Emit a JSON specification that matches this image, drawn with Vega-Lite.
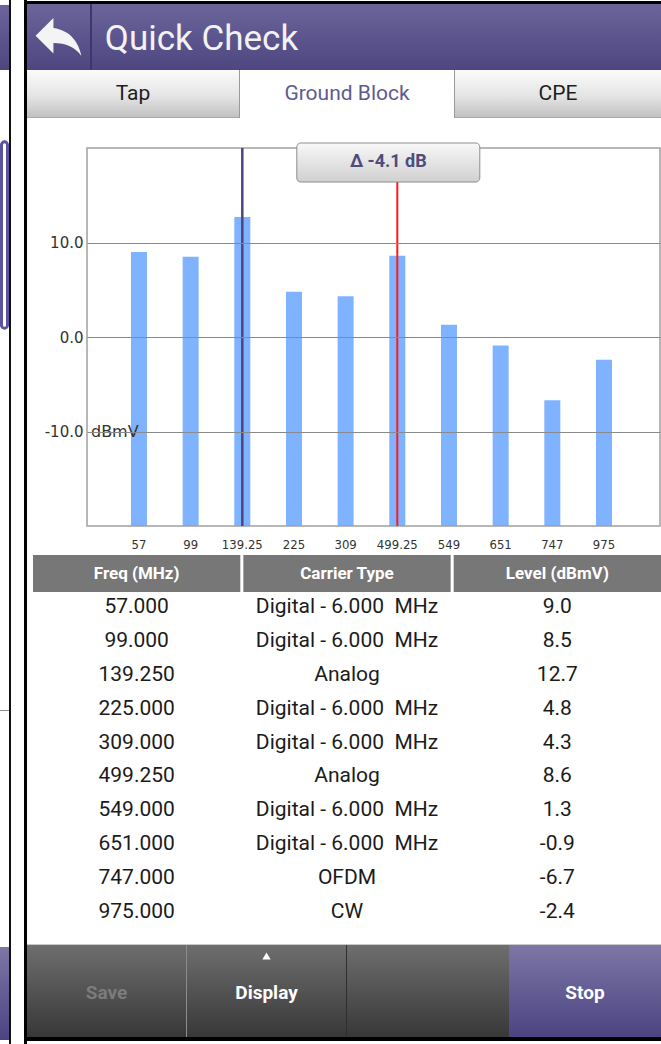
{
"$schema": "https://vega.github.io/schema/vega-lite/v6.json",
"background": "white",
"padding": 0,
"spacing": 0,
"config": {"view": {"stroke": null}, "font": "Roboto", "concat": {"spacing": 0},
  "locale": {"number": {"decimal": ".", "thousands": ",", "grouping": [3], "currency": ["$", ""], "minus": "-"}}},
"datasets": {
  "channels": [
    {"freq": 57, "label": "57", "type": "Digital - 6.000\u00a0 MHz", "level": 9.0},
    {"freq": 99, "label": "99", "type": "Digital - 6.000\u00a0 MHz", "level": 8.5},
    {"freq": 139.25, "label": "139.25", "type": "Analog", "level": 12.7},
    {"freq": 225, "label": "225", "type": "Digital - 6.000\u00a0 MHz", "level": 4.8},
    {"freq": 309, "label": "309", "type": "Digital - 6.000\u00a0 MHz", "level": 4.3},
    {"freq": 499.25, "label": "499.25", "type": "Analog", "level": 8.6},
    {"freq": 549, "label": "549", "type": "Digital - 6.000\u00a0 MHz", "level": 1.3},
    {"freq": 651, "label": "651", "type": "Digital - 6.000\u00a0 MHz", "level": -0.9},
    {"freq": 747, "label": "747", "type": "OFDM", "level": -6.7},
    {"freq": 975, "label": "975", "type": "CW", "level": -2.4}
  ],
  "markers": [
    {"label": "139.25", "kind": "reference"},
    {"label": "499.25", "kind": "delta", "delta_text": "\u0394 -4.1 dB"}
  ],
  "one": [{"k": 1}]
},
"hconcat": [
  {"vconcat": [
    {"width": 9, "height": 5, "data": {"name": "one"}, "mark": {"type": "rect", "opacity": 0}, "encoding": {}},
    {"width": 9, "height": 65, "data": {"name": "one"}, "mark": {"type": "rect", "fill": {"gradient": "linear", "x1": 0, "y1": 0, "x2": 0, "y2": 1, "stops": [{"offset": 0, "color": "#6c659b"}, {"offset": 1, "color": "#4d4680"}]}}, "encoding": {}},
    {"width": 9, "height": 70, "data": {"name": "one"}, "mark": {"type": "rect", "opacity": 0}, "encoding": {}},
    {"width": 9, "height": 190, "data": {"name": "one"},
     "mark": {"type": "rect", "fill": "transparent", "stroke": "#5b53a0", "strokeWidth": 3, "cornerRadius": 5},
     "encoding": {"x": {"field": "k", "type": "nominal", "scale": {"type": "band", "paddingOuter": 0.25, "paddingInner": 0}, "axis": null},
                  "y": {"field": "k", "type": "nominal", "scale": {"type": "band", "paddingOuter": 0.01, "paddingInner": 0}, "axis": null}}},
    {"width": 9, "height": 380, "data": {"name": "one"}, "mark": {"type": "rect", "opacity": 0}, "encoding": {}},
    {"width": 9, "height": 1, "data": {"name": "one"}, "mark": {"type": "rect", "fill": "#8f8f8f"}, "encoding": {}},
    {"width": 9, "height": 236, "data": {"name": "one"}, "mark": {"type": "rect", "opacity": 0}, "encoding": {}},
    {"width": 9, "height": 93, "data": {"name": "one"}, "mark": {"type": "rect", "fill": {"gradient": "linear", "x1": 0, "y1": 0, "x2": 0, "y2": 1, "stops": [{"offset": 0, "color": "#7d76a6"}, {"offset": 1, "color": "#4b4482"}]}}, "encoding": {}},
    {"width": 9, "height": 4, "data": {"name": "one"}, "mark": {"type": "rect", "opacity": 0}, "encoding": {}}
  ]},
  {"width": 2, "height": 1044, "data": {"name": "one"}, "mark": {"type": "rect", "fill": "#111111"}, "encoding": {}},
  {"width": 13, "height": 1044, "data": {"name": "one"}, "mark": {"type": "rect", "opacity": 0}, "encoding": {}},
  {"width": 3, "height": 1044, "data": {"name": "one"}, "mark": {"type": "rect", "fill": "#000000"}, "encoding": {}},
  {"vconcat": [
    {"width": 634, "height": 1, "data": {"name": "one"}, "mark": {"type": "rect", "opacity": 0}, "encoding": {}},
    {"width": 634, "height": 3, "data": {"name": "one"}, "mark": {"type": "rect", "fill": "#000000"}, "encoding": {}},
    {"bounds": "flush", "hconcat": [
      {"width": 63, "height": 66, "data": {"name": "one"}, "layer": [
        {"mark": {"type": "rect", "fill": {"gradient": "linear", "x1": 0, "y1": 0, "x2": 0, "y2": 1, "stops": [{"offset": 0, "color": "#6c659b"}, {"offset": 1, "color": "#4d4680"}]}}, "encoding": {}},
        {"mark": {"type": "point", "shape": "M-0.222,-0.389 L-0.222,-0.833 L-1,-0.056 L-0.222,0.722 L-0.222,0.267 C0.333,0.267 0.722,0.444 1,0.833 C0.889,0.278 0.556,-0.278 -0.222,-0.389 Z", "size": 2100, "filled": true, "fill": "#f4f4f4", "strokeWidth": 0, "opacity": 1}, "encoding": {}}
      ]},
      {"width": 2, "height": 66, "data": {"name": "one"}, "mark": {"type": "rect", "fill": "#3d376b"}, "encoding": {}},
      {"width": 219, "height": 66, "data": {"values": [{"title": "Quick Check"}]}, "layer": [
        {"mark": {"type": "rect", "fill": {"gradient": "linear", "x1": 0, "y1": 0, "x2": 0, "y2": 1, "stops": [{"offset": 0, "color": "#6c659b"}, {"offset": 1, "color": "#4d4680"}]}}, "encoding": {}},
        {"mark": {"type": "text", "font": "Roboto", "fontSize": 35, "color": "#f2f2f2", "dy": 2}, "encoding": {"text": {"field": "title"}}}
      ]},
      {"width": 350, "height": 66, "data": {"name": "one"}, "mark": {"type": "rect", "fill": {"gradient": "linear", "x1": 0, "y1": 0, "x2": 0, "y2": 1, "stops": [{"offset": 0, "color": "#6c659b"}, {"offset": 1, "color": "#4d4680"}]}}, "encoding": {}}
    ]},
    {"bounds": "flush", "hconcat": [
      {"width": 212, "height": 48, "data": {"values": [{"tab": "Tap"}]}, "layer": [
        {"mark": {"type": "rect", "fill": {"gradient": "linear", "x1": 0, "y1": 0, "x2": 0, "y2": 1, "stops": [{"offset": 0, "color": "#fbfbfb"}, {"offset": 0.55, "color": "#e4e4e4"}, {"offset": 0.97, "color": "#c2c2c2"}, {"offset": 1, "color": "#9a9a9a"}]}}, "encoding": {}},
        {"mark": {"type": "text", "fontSize": 21, "color": "#1e1e1e"}, "encoding": {"text": {"field": "tab"}}}
      ]},
      {"width": 1, "height": 48, "data": {"name": "one"}, "mark": {"type": "rect", "fill": "#9a9a9a"}, "encoding": {}},
      {"width": 214, "height": 48, "data": {"values": [{"tab": "Ground Block"}]}, "layer": [
        {"mark": {"type": "rect", "fill": "#ffffff"}, "encoding": {}},
        {"mark": {"type": "text", "fontSize": 21, "color": "#5d5b8e"}, "encoding": {"text": {"field": "tab"}}}
      ]},
      {"width": 1, "height": 48, "data": {"name": "one"}, "mark": {"type": "rect", "fill": "#9a9a9a"}, "encoding": {}},
      {"width": 206, "height": 48, "data": {"values": [{"tab": "CPE"}]}, "layer": [
        {"mark": {"type": "rect", "fill": {"gradient": "linear", "x1": 0, "y1": 0, "x2": 0, "y2": 1, "stops": [{"offset": 0, "color": "#fbfbfb"}, {"offset": 0.55, "color": "#e4e4e4"}, {"offset": 0.97, "color": "#c2c2c2"}, {"offset": 1, "color": "#9a9a9a"}]}}, "encoding": {}},
        {"mark": {"type": "text", "fontSize": 21, "color": "#1e1e1e"}, "encoding": {"text": {"field": "tab"}}}
      ]}
    ]},
    {"bounds": "flush", "hconcat": [
      {"width": 60, "height": 435, "data": {"name": "one"}, "mark": {"type": "rect", "opacity": 0}, "encoding": {}},
      {"width": 573, "height": 435,
       "layer": [
        {"data": {"name": "channels"},
         "mark": {"type": "bar", "color": "#80b3ff"},
         "encoding": {
           "x": {"field": "label", "type": "nominal", "sort": null, "title": null,
                 "scale": {"type": "band", "domain": ["57", "99", "139.25", "225", "309", "499.25", "549", "651", "747", "975"], "paddingInner": 0.69, "paddingOuter": 0.89, "align": 0.478},
                 "axis": {"labelAngle": 0, "domain": false, "ticks": false, "offset": -27, "labelPadding": 12, "labelFont": "DejaVu Sans Condensed", "labelFontSize": 13, "labelColor": "#333333", "grid": false}},
           "y": {"field": "level", "type": "quantitative", "title": null,
                 "scale": {"domain": [-22.857, 23.175], "nice": false, "zero": false},
                 "axis": {"values": [-10, 0, 10], "format": ".1f", "domain": false, "ticks": false, "labelPadding": 4, "labelFont": "DejaVu Sans", "labelFontSize": 15, "labelColor": "#333333", "grid": true, "gridColor": "#8a8a8a", "gridWidth": 1.2, "zindex": 1}},
           "y2": {"datum": -20}
         }},
        {"data": {"name": "one"},
         "mark": {"type": "rect", "fill": "transparent", "stroke": "#a0a0a0", "strokeWidth": 1.5},
         "encoding": {"y": {"datum": 20, "title": null}, "y2": {"datum": -20}}},
        {"data": {"values": [{"label": "57", "level": -10, "unit": "dBmV"}]},
         "mark": {"type": "text", "align": "left", "dx": -48, "font": "DejaVu Sans", "fontSize": 16, "color": "#333333"},
         "encoding": {
           "x": {"field": "label", "type": "nominal", "title": null},
           "y": {"field": "level", "type": "quantitative", "title": null},
           "text": {"field": "unit"}
         }},
        {"data": {"name": "markers"}, "transform": [{"filter": "datum.kind == 'reference'"}],
         "mark": {"type": "rule", "color": "#4a4680", "strokeWidth": 2.5},
         "encoding": {"x": {"field": "label", "type": "nominal", "title": null}, "y": {"datum": 20, "title": null}, "y2": {"datum": -20}}},
        {"data": {"name": "markers"}, "transform": [{"filter": "datum.kind == 'delta'"}],
         "mark": {"type": "rule", "color": "#ff1a1a", "strokeWidth": 2},
         "encoding": {"x": {"field": "label", "type": "nominal", "title": null}, "y": {"datum": 16.4, "title": null}, "y2": {"datum": -20}}},
        {"data": {"name": "markers"}, "transform": [{"filter": "datum.kind == 'delta'"}],
         "mark": {"type": "bar", "width": 183, "xOffset": -9, "cornerRadius": 4, "stroke": "#8e8e8e", "strokeWidth": 1,
                  "fill": {"gradient": "linear", "x1": 0, "y1": 0, "x2": 0, "y2": 1, "stops": [{"offset": 0, "color": "#f8f8f8"}, {"offset": 1, "color": "#d0d0d0"}]}},
         "encoding": {"x": {"field": "label", "type": "nominal", "title": null}, "y": {"datum": 20.53, "title": null}, "y2": {"datum": 16.4}}},
        {"data": {"name": "markers"}, "transform": [{"filter": "datum.kind == 'delta'"}],
         "mark": {"type": "text", "dx": -9, "font": "Roboto", "fontWeight": "bold", "fontSize": 18, "color": "#4e4b7e"},
         "encoding": {"x": {"field": "label", "type": "nominal", "title": null}, "y": {"datum": 18.47, "title": null}, "text": {"field": "delta_text"}}}
       ]},
      {"width": 1, "height": 435, "data": {"name": "one"}, "mark": {"type": "rect", "opacity": 0}, "encoding": {}}
    ]},
    {"width": 634, "height": 2, "data": {"name": "one"}, "mark": {"type": "rect", "opacity": 0}, "encoding": {}},
    {"bounds": "flush", "hconcat": [
      {"width": 6, "height": 37, "data": {"name": "one"}, "mark": {"type": "rect", "opacity": 0}, "encoding": {}},
      {"width": 628, "height": 37,
       "data": {"values": [{"col": "Freq (MHz)"}, {"col": "Carrier Type"}, {"col": "Level (dBmV)"}]},
       "encoding": {"x": {"field": "col", "type": "nominal", "sort": null, "title": null, "axis": null,
                          "scale": {"type": "band", "domain": ["Freq (MHz)", "Carrier Type", "Level (dBmV)"], "paddingInner": 0.0144, "paddingOuter": 0}}},
       "layer": [
         {"mark": {"type": "bar", "color": "#777777"}},
         {"mark": {"type": "text", "font": "Roboto", "fontWeight": "bold", "fontSize": 17, "color": "#ffffff"}, "encoding": {"text": {"field": "col"}}}
       ]}
    ]},
    {"bounds": "flush", "hconcat": [
      {"width": 6, "height": 335, "data": {"name": "one"}, "mark": {"type": "rect", "opacity": 0}, "encoding": {}},
      {"width": 628, "height": 335,
       "data": {"name": "channels"},
       "encoding": {"y": {"field": "freq", "type": "ordinal", "sort": null, "title": null, "axis": null, "scale": {"type": "point", "padding": 0.45}}},
       "layer": [
         {"mark": {"type": "text", "font": "Roboto", "fontSize": 21, "color": "#1b1b1b"},
          "encoding": {"x": {"datum": "Freq (MHz)", "type": "nominal", "axis": null, "scale": {"type": "band", "domain": ["Freq (MHz)", "Carrier Type", "Level (dBmV)"], "paddingInner": 0.0144, "paddingOuter": 0}},
                       "text": {"field": "freq", "type": "quantitative", "format": ".3f"}}},
         {"mark": {"type": "text", "font": "Roboto", "fontSize": 21, "color": "#1b1b1b"},
          "encoding": {"x": {"datum": "Carrier Type", "type": "nominal", "axis": null},
                       "text": {"field": "type"}}},
         {"mark": {"type": "text", "font": "Roboto", "fontSize": 21, "color": "#1b1b1b"},
          "encoding": {"x": {"datum": "Level (dBmV)", "type": "nominal", "axis": null},
                       "text": {"field": "level", "type": "quantitative", "format": ".1f"}}}
       ]}
    ]},
    {"width": 634, "height": 17, "data": {"name": "one"}, "mark": {"type": "rect", "opacity": 0}, "encoding": {}},
    {"width": 634, "height": 1, "data": {"name": "one"}, "mark": {"type": "rect", "fill": "#c9c9c9"}, "encoding": {}},
    {"bounds": "flush", "hconcat": [
      {"width": 159, "height": 92, "data": {"values": [{"btn": "Save"}]}, "layer": [
        {"mark": {"type": "rect", "fill": {"gradient": "linear", "x1": 0, "y1": 0, "x2": 0, "y2": 1, "stops": [{"offset": 0, "color": "#6e6e6e"}, {"offset": 1, "color": "#383838"}]}}, "encoding": {}},
        {"mark": {"type": "text", "font": "Roboto", "fontWeight": "bold", "fontSize": 19, "color": "#7c7c7c", "dy": 2}, "encoding": {"text": {"field": "btn"}}}
      ]},
      {"width": 1, "height": 92, "data": {"name": "one"}, "mark": {"type": "rect", "fill": "#8c8c8c"}, "encoding": {}},
      {"width": 159, "height": 92, "data": {"values": [{"btn": "Display"}]}, "layer": [
        {"mark": {"type": "rect", "fill": {"gradient": "linear", "x1": 0, "y1": 0, "x2": 0, "y2": 1, "stops": [{"offset": 0, "color": "#6e6e6e"}, {"offset": 1, "color": "#383838"}]}}, "encoding": {}},
        {"mark": {"type": "point", "shape": "triangle-up", "size": 70, "filled": true, "fill": "#ffffff", "strokeWidth": 0, "opacity": 1, "yOffset": -35}, "encoding": {}},
        {"mark": {"type": "text", "font": "Roboto", "fontWeight": "bold", "fontSize": 19, "color": "#ffffff", "dy": 2}, "encoding": {"text": {"field": "btn"}}}
      ]},
      {"width": 1, "height": 92, "data": {"name": "one"}, "mark": {"type": "rect", "fill": "#2e2e2e"}, "encoding": {}},
      {"width": 162, "height": 92, "data": {"name": "one"}, "mark": {"type": "rect", "fill": {"gradient": "linear", "x1": 0, "y1": 0, "x2": 0, "y2": 1, "stops": [{"offset": 0, "color": "#6e6e6e"}, {"offset": 1, "color": "#383838"}]}}, "encoding": {}},
      {"width": 152, "height": 92, "data": {"values": [{"btn": "Stop"}]}, "layer": [
        {"mark": {"type": "rect", "fill": {"gradient": "linear", "x1": 0, "y1": 0, "x2": 0, "y2": 1, "stops": [{"offset": 0, "color": "#7d76a6"}, {"offset": 1, "color": "#4b4482"}]}}, "encoding": {}},
        {"mark": {"type": "text", "font": "Roboto", "fontWeight": "bold", "fontSize": 19, "color": "#ffffff", "dy": 2}, "encoding": {"text": {"field": "btn"}}}
      ]}
    ]},
    {"width": 634, "height": 4, "data": {"name": "one"}, "mark": {"type": "rect", "fill": "#000000"}, "encoding": {}},
    {"width": 634, "height": 3, "data": {"name": "one"}, "mark": {"type": "rect", "opacity": 0}, "encoding": {}}
  ]}
]
}
